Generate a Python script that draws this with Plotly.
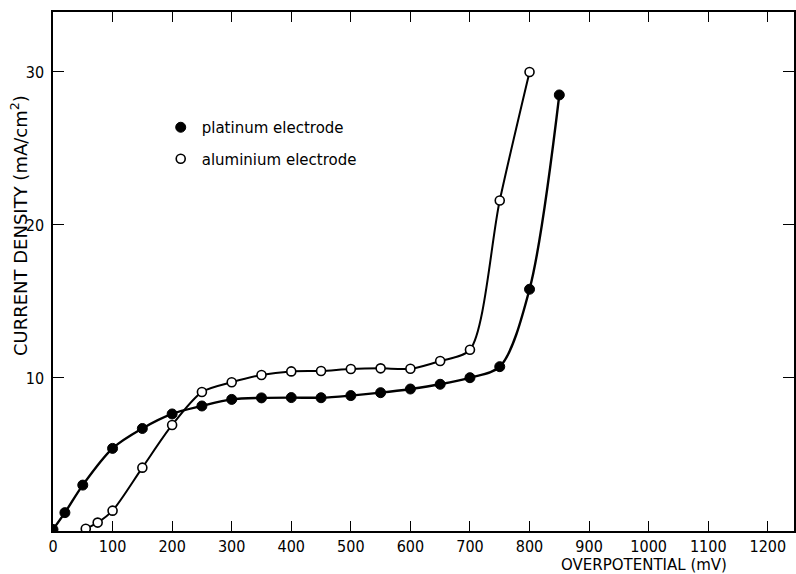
import plotly.graph_objects as go

# Data
pt_x = [0, 20, 50, 100, 150, 200, 250, 300, 350, 400, 450, 500, 550, 600, 650, 700, 750, 800, 850]
pt_y = [0.1, 1.2, 3.0, 5.4, 6.7, 7.65, 8.17, 8.6, 8.7, 8.72, 8.71, 8.85, 9.04, 9.28, 9.59, 10.02, 10.74, 15.8, 28.5]

al_x = [55, 75, 100, 150, 200, 250, 300, 350, 400, 450, 500, 550, 600, 650, 700, 750, 800]
al_y = [0.15, 0.55, 1.33, 4.14, 6.93, 9.08, 9.72, 10.2, 10.43, 10.46, 10.59, 10.63, 10.6, 11.11, 11.85, 21.6, 30.0]

x_ticks = list(range(0, 1300, 100))
y_ticks = [10, 20, 30]
series_names = ["platinum electrode", "aluminium electrode"]
x_title = "OVERPOTENTIAL (mV)"
y_title = "CURRENT DENSITY (mA/cm<sup>2</sup>)"

TICK_FONT = "Liberation Sans Narrow, DejaVu Sans Condensed, Liberation Sans, sans-serif"
TEXT_FONT = "DejaVu Sans, sans-serif"

fig = go.Figure()

# smooth curves
fig.add_trace(go.Scatter(x=pt_x, y=pt_y, mode="lines", line=dict(color="black", width=2.4, shape="spline", smoothing=0.9),
                         showlegend=False, hoverinfo="skip"))
fig.add_trace(go.Scatter(x=al_x, y=al_y, mode="lines", line=dict(color="black", width=2.0, shape="spline", smoothing=0.8),
                         showlegend=False, hoverinfo="skip"))
# markers
fig.add_trace(go.Scatter(x=pt_x, y=pt_y, mode="markers", name=series_names[0], legendgroup="a",
                         marker=dict(symbol="circle", size=10, color="black", line=dict(color="black", width=1))))
fig.add_trace(go.Scatter(x=al_x, y=al_y, mode="markers", name=series_names[1], legendgroup="b",
                         marker=dict(symbol="circle", size=9, color="white", line=dict(color="black", width=1.6))))

W, H = 796, 574
ml, mr, mt, mb = 53, 0, 12, 43
pw, ph = W - ml - mr, H - mt - mb

fig.update_layout(
    width=W, height=H,
    margin=dict(l=ml, r=mr, t=mt, b=mb),
    plot_bgcolor="white", paper_bgcolor="white",
    showlegend=True,
    legend=dict(x=(160 - ml) / pw, y=(H - mb - 111) / ph, xanchor="left", yanchor="top",
                bgcolor="rgba(0,0,0,0)", font=dict(family=TEXT_FONT, size=15, color="black"),
                tracegroupgap=9, traceorder="grouped", itemwidth=32),
    xaxis=dict(range=[0, 1244], tickvals=x_ticks, ticks="inside", ticklen=10, tickwidth=1.3, tickcolor="black",
               showline=True, linecolor="black", linewidth=1.5, mirror="ticks", showgrid=False, zeroline=False,
               tickfont=dict(family=TICK_FONT, size=16, color="black"), ticklabelstandoff=0),
    yaxis=dict(range=[0, 33.92], tickvals=y_ticks, ticks="inside", ticklen=11, tickwidth=1.3, tickcolor="black",
               showline=True, linecolor="black", linewidth=1.5, mirror="ticks", showgrid=False, zeroline=False,
               tickfont=dict(family=TICK_FONT, size=16, color="black"), ticklabelstandoff=4),
    annotations=[
        dict(text=x_title, xref="paper", yref="paper", x=(645.5 - ml) / pw, y=(H - mb - 565) / ph,
             xanchor="center", yanchor="middle", showarrow=False,
             font=dict(family=TEXT_FONT, size=15, color="black")),
        dict(text=y_title, xref="paper", yref="paper", x=(19 - ml) / pw, y=(H - mb - 226) / ph,
             xanchor="center", yanchor="middle", showarrow=False, textangle=-90,
             font=dict(family=TEXT_FONT, size=18, color="black")),
    ],
)

fig.write_html("out.html")
